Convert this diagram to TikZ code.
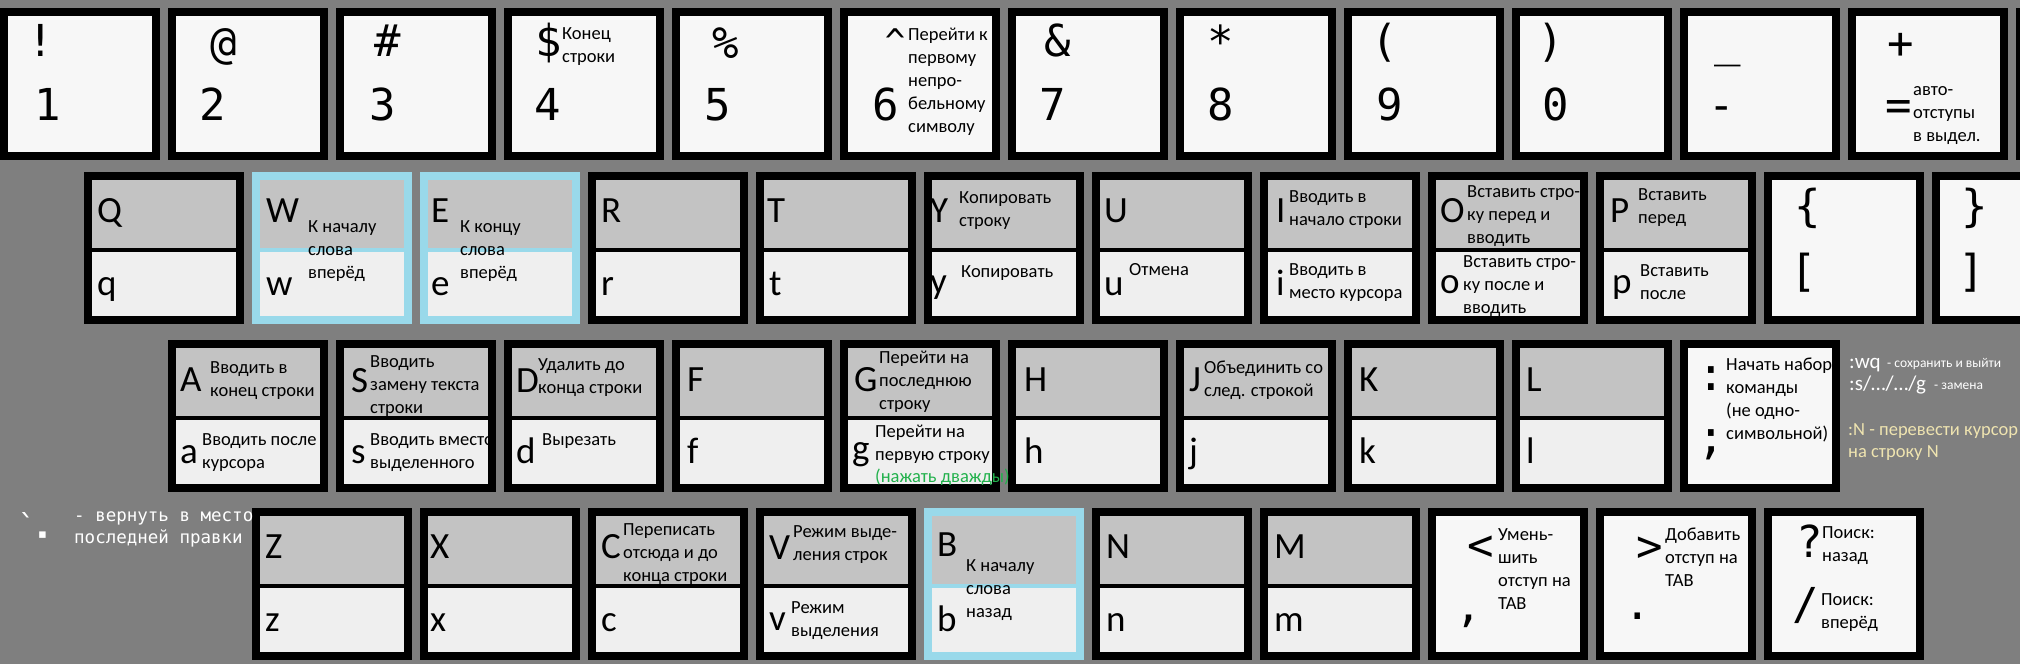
\documentclass[tikz,border=0pt]{standalone}
\usepackage{fontspec}
\setmainfont{Carlito}
\newfontfamily\pixfont{DejaVu Sans Mono}
\newfontfamily\dvsans{DejaVu Sans}
\definecolor{bg}{RGB}{127,127,127}
\definecolor{ktop}{RGB}{195,195,195}
\definecolor{kbot}{RGB}{239,239,239}
\definecolor{kw}{RGB}{247,247,247}
\definecolor{hl}{RGB}{153,217,234}
\definecolor{grn}{RGB}{34,177,76}
\definecolor{ylw}{RGB}{239,228,176}
\newcommand\splitkey[3]{%
  \fill[#3] (#1,#2) rectangle ++(160,152);
  \fill[ktop] (#1+8,#2+8) rectangle ++(144,68);
  \fill[kbot] (#1+8,#2+80) rectangle ++(144,64);}
\newcommand\plainkey[2]{%
  \fill[black] (#1,#2) rectangle ++(160,152);
  \fill[kw] (#1+8,#2+8) rectangle ++(144,136);}
\newcommand\LL[1]{\hbox{#1}}
\tikzset{
  big/.style={font=\fontsize{37}{40}\selectfont, inner sep=0pt, anchor=base west},
  dsc/.style={font=\fontsize{18.5}{23}\selectfont, inner sep=0pt, anchor=base west},
  px/.style={font=\pixfont\fontsize{44}{44}\selectfont, inner sep=0pt, anchor=base},
  note/.style={inner sep=0pt, anchor=base west, text=white},
}
\begin{document}
\begin{tikzpicture}[x=1pt,y=-1pt]
\useasboundingbox (0,0) rectangle (2020,664);
\clip (0,0) rectangle (2020,664);
\fill[bg] (0,0) rectangle (2020,664);
% ---- row 1
\foreach \i in {0,...,12} {\plainkey{168*\i}{8}}
% ---- row 2
\foreach \i in {0,3,4,5,6,7,8,9} {\splitkey{84+168*\i}{172}{black}}
\splitkey{252}{172}{hl}
\splitkey{420}{172}{hl}
\plainkey{1764}{172}
\plainkey{1932}{172}
% ---- row 3
\foreach \i in {0,...,8} {\splitkey{168+168*\i}{340}{black}}
\plainkey{1680}{340}
% ---- row 4
\foreach \i in {0,1,2,3,5,6} {\splitkey{252+168*\i}{508}{black}}
\splitkey{924}{508}{hl}
\plainkey{1428}{508}
\plainkey{1596}{508}
\plainkey{1764}{508}

% ---- row 1 glyphs
\node[px] (s1) at (41,56) {!};          \node[px] (n1) at (48,120) {1};
\node[px] (s2) at (224,58) {@};         \node[px] (n2) at (213,120) {2};
\node[px] (s3) at (388,56) {\#};        \node[px] (n3) at (383,120) {3};
\node[px] (s4) at (549,56) {\$};        \node[px] (n4) at (548,120) {4};
\node[px] (s5) at (726,58) {\%};        \node[px] (n5) at (718,120) {5};
\node[px,font=\pixfont\fontsize{34}{34}\selectfont] (s6) at (895,53) {\char"5E};  \node[px] (n6) at (886,120) {6};
\node[px] (s7) at (1058,56) {\&};       \node[px] (n7) at (1053,120) {7};
\node[px] (s8) at (1221,57) {*};        \node[px] (n8) at (1221,120) {8};
\node[px] (s9) at (1385,56) {(};        \node[px] (n9) at (1390,120) {9};
\node[px] (s0) at (1551,56) {)};        \node[px] (n0) at (1556,120) {0};
\node[px] (smi) at (1728,56) {\char"5F}; \node[px] (nmi) at (1722,120) {-};
\node[px] (seq) at (1901,58) {+};       \node[px] (neq) at (1899,120) {=};
\node[dsc] (d4) at (562,39) {\vtop{\LL{Конец}\LL{строки}}};
\node[dsc] (d6) at (908,40) {\vtop{\LL{Перейти к}\LL{первому}\LL{непро-}\LL{бельному}\LL{символу}}};
\node[dsc] (deq) at (1913,95) {\vtop{\LL{авто-}\LL{отступы}\LL{в выдел.}}};

% ---- row 2 letters
\node[big] (kQ) at (97,222) {Q};   \node[big] (kq) at (97,295) {q};
\node[big] (kW) at (266,222) {W};  \node[big] (kw) at (266,295) {w};
\node[big] (kE) at (431,222) {E};  \node[big] (ke) at (431,295) {e};
\node[big] (kR) at (601,222) {R};  \node[big] (kr) at (601,295) {r};
\node[big] (kT) at (767,222) {T};  \node[big] (kt) at (769,295) {t};
\node[big] (kY) at (930,222) {Y};  \node[big] (ky) at (930,293) {y};
\node[big] (kU) at (1104,222) {U}; \node[big] (ku) at (1104,295) {u};
\node[big] (kI) at (1276,222) {I}; \node[big] (ki) at (1276,295) {i};
\node[big] (kO) at (1440,222) {O}; \node[big] (ko) at (1440,293) {o};
\node[big] (kP) at (1610,222) {P}; \node[big] (kp) at (1612,293) {p};
\node[px] (kbo) at (1808,221) {\{}; \node[px] (kbs) at (1804,286) {[};
\node[px] (kbc) at (1975,221) {\}}; \node[px] (kbe) at (1972,286) {]};
\node[dsc] (dW) at (308,232) {\vtop{\LL{К началу}\LL{слова}\LL{вперёд}}};
\node[dsc] (dE) at (460,232) {\vtop{\LL{К концу}\LL{слова}\LL{вперёд}}};
\node[dsc] (dY) at (959,203) {\vtop{\LL{Копировать}\LL{строку}}};
\node[dsc] (dy) at (961,277) {Копировать};
\node[dsc] (du) at (1129,275) {Отмена};
\node[dsc] (dI) at (1289,202) {\vtop{\LL{Вводить в}\LL{начало строки}}};
\node[dsc] (di) at (1289,275) {\vtop{\LL{Вводить в}\LL{место курсора}}};
\node[dsc] (dO) at (1467,197) {\vtop{\LL{Вставить стро-}\LL{ку перед и}\LL{вводить}}};
\node[dsc] (do) at (1463,267) {\vtop{\LL{Вставить стро-}\LL{ку после и}\LL{вводить}}};
\node[dsc] (dP) at (1638,200) {\vtop{\LL{Вставить}\LL{перед}}};
\node[dsc] (dp) at (1640,276) {\vtop{\LL{Вставить}\LL{после}}};

% ---- row 3 letters
\node[big] (kA) at (180,391) {A};  \node[big] (ka) at (180,463) {a};
\node[big] (kS) at (351,392) {S};  \node[big] (ks) at (351,463) {s};
\node[big] (kD) at (516,392) {D};  \node[big] (kd) at (516,463) {d};
\node[big] (kF) at (687,391) {F};  \node[big] (kf) at (687,463) {f};
\node[big] (kG) at (854,391) {G};  \node[big] (kg) at (852,460) {g};
\node[big] (kH) at (1024,391) {H}; \node[big] (kh) at (1024,463) {h};
\node[big] (kJ) at (1189,391) {J}; \node[big] (kj) at (1189,463) {j};
\node[big] (kK) at (1359,391) {K}; \node[big] (kk) at (1359,463) {k};
\node[big] (kL) at (1526,391) {L}; \node[big] (kl) at (1526,463) {l};
\node[px,font=\pixfont\fontsize{46}{46}\selectfont] (kcol) at (1711,390) {:};
\node[px,font=\pixfont\fontsize{46}{46}\selectfont] (ksem) at (1711,453) {;};
\node[dsc] (dA) at (210,373) {\vtop{\LL{Вводить в}\LL{конец строки}}};
\node[dsc] (da) at (202,445) {\vtop{\LL{Вводить после}\LL{курсора}}};
\node[dsc] (dS) at (370,367) {\vtop{\LL{Вводить}\LL{замену текста}\LL{строки}}};
\node[dsc] (ds) at (370,445) {\vtop{\LL{Вводить вместо}\LL{выделенного}}};
\node[dsc] (dD) at (538,370) {\vtop{\LL{Удалить до}\LL{конца строки}}};
\node[dsc] (dd) at (542,445) {Вырезать};
\node[dsc] (dG) at (879,363) {\vtop{\LL{Перейти на}\LL{последнюю}\LL{строку}}};
\node[dsc] (dg) at (875,437) {\vtop{\LL{Перейти на}\LL{первую строку}}};
\node[dsc,text=grn] (dg2) at (875,482) {(нажать дважды)};
\node[dsc] (dJ) at (1204,373) {\vtop{\LL{Объединить со}\LL{след. строкой}}};
\node[dsc] (dcol) at (1726,370) {\vtop{\LL{Начать набор}\LL{команды}\LL{(не одно-}\LL{символьной)}}};

% ---- row 4 letters
\node[big] (kZ) at (265,558) {Z};  \node[big] (kz) at (265,631) {z};
\node[big] (kX) at (430,558) {X};  \node[big] (kx) at (430,631) {x};
\node[big] (kC) at (601,558) {C};  \node[big] (kc) at (601,631) {c};
\node[big] (kV) at (769,559) {V};  \node[big] (kv) at (769,630) {v};
\node[big] (kB) at (937,556) {B};  \node[big] (kb) at (937,631) {b};
\node[big] (kN) at (1106,558) {N}; \node[big] (kn) at (1106,631) {n};
\node[big] (kM) at (1274,558) {M}; \node[big] (km) at (1274,631) {m};
\node[px] (klt) at (1481,560) {<};  \node[px] (kcm) at (1469,621) {,};
\node[px] (kgt) at (1650,561) {>};  \node[px] (kdt) at (1638,619) {.};
\node[px] (kqm) at (1810,557) {?};  \node[px] (ksl) at (1806,619) {/};
\node[dsc] (dC) at (623,535) {\vtop{\LL{Переписать}\LL{отсюда и до}\LL{конца строки}}};
\node[dsc] (dV) at (793,537) {\vtop{\LL{Режим выде-}\LL{ления строк}}};
\node[dsc] (dv) at (791,613) {\vtop{\LL{Режим}\LL{выделения}}};
\node[dsc] (dB) at (966,571) {\vtop{\LL{К началу}\LL{слова}\LL{назад}}};
\node[dsc] (dlt) at (1498,540) {\vtop{\LL{Умень-}\LL{шить}\LL{отступ на}\LL{TAB}}};
\node[dsc] (dgt) at (1665,540) {\vtop{\LL{Добавить}\LL{отступ на}\LL{TAB}}};
\node[dsc] (dqm) at (1822,538) {\vtop{\LL{Поиск:}\LL{назад}}};
\node[dsc] (dsl) at (1821,605) {\vtop{\LL{Поиск:}\LL{вперёд}}};

% ---- notes right
\node[note,font=\fontsize{21}{24}\selectfont] (wq) at (1849,368) {:wq};
\node[note,font=\fontsize{13.5}{16}\selectfont] (wqd) at (1887,367) {- сохранить и выйти};
\node[note,font=\fontsize{21}{24}\selectfont] (sg) at (1849,390) {:s/…/…/g};
\node[note,font=\fontsize{13.5}{16}\selectfont] (sgd) at (1934,389) {- замена};
\node[note,font=\fontsize{18.5}{22}\selectfont,text=ylw] (nN) at (1848,435) {\vtop{\LL{:N - перевести курсор}\LL{на строку N}}};
% ---- notes left
\node[note,anchor=base,font=\pixfont\fontsize{30}{30}\selectfont] (bq) at (27,536) {\char"60};
\node[note,anchor=center,font=\dvsans\fontsize{13}{13}\selectfont] (sq) at (42.5,535.5) {▪};
\node[note,font=\pixfont\fontsize{17.5}{22}\selectfont] (lb) at (74,521) {\vtop{\LL{- вернуть в место}\LL{последней правки}}};
\end{tikzpicture}
\end{document}
